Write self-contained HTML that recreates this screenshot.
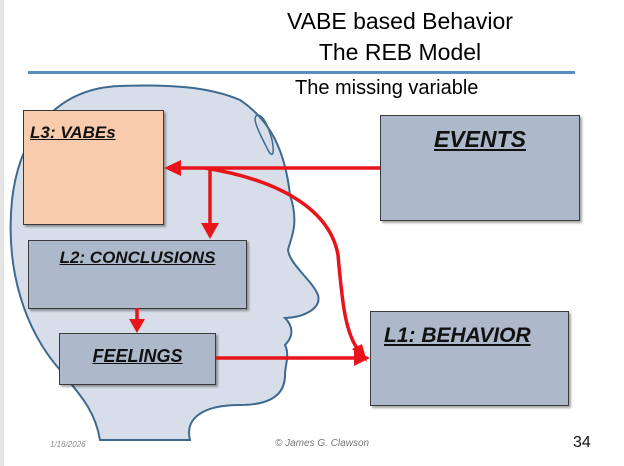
<!DOCTYPE html>
<html><head><style>
body{margin:0;width:624px;height:466px;background:#fff;position:relative;overflow:hidden;font-family:"Liberation Sans",sans-serif}
.t{position:absolute;font-family:"Liberation Sans",sans-serif;color:#000}
.box{position:absolute;border:1.5px solid #3a3a3a;box-shadow:2px 2px 2px rgba(0,0,0,.35);box-sizing:border-box;text-align:center;font-weight:bold;font-style:italic;text-decoration:underline;color:#111}
</style></head><body>
<div style="position:absolute;left:0;top:0;width:4px;height:466px;background:#e4e4e4"></div>
<div class="t" style="left:250px;top:8px;width:300px;text-align:center;font-size:23px">VABE based Behavior</div>
<div class="t" style="left:250px;top:39px;width:300px;text-align:center;font-size:23px">The REB Model</div>
<div style="position:absolute;left:28px;top:71px;width:547px;height:3px;background:#5b8bbf"></div>
<svg width="624" height="466" style="position:absolute;left:0;top:0">
<path d="M120,86 C60,88 20,130 12,200 C5,270 25,330 60,370 C80,395 95,410 100,440 L190,440 C185,420 200,405 240,405 C270,405 285,395 285,375 C285,365 290,355 285,345 C295,335 292,325 285,318 C300,318 322,310 318,295 C312,280 290,265 288,250 C290,240 300,225 290,195 C285,150 270,120 240,100 C210,87 170,84 120,86 Z" fill="#d7dee9" stroke="#3f6a8f" stroke-width="2"/>
<path d="M256,116 C262,112 268,125 272,140 C275,155 272,158 268,150 C262,138 252,120 256,116 Z" fill="none" stroke="#3f6a8f" stroke-width="1.5"/>
</svg>
<div class="box" style="left:23px;top:110px;width:141px;height:115px;background:#f8cbad;text-align:left;padding-left:6px;padding-top:12px;font-size:17px">L3: VABEs</div>
<div class="box" style="left:28px;top:240px;width:219px;height:69px;background:#adb9ca;padding-top:7px;font-size:17px">L2: CONCLUSIONS</div>
<div class="box" style="left:59px;top:333px;width:157px;height:52px;background:#adb9ca;padding-top:12px;font-size:18px">FEELINGS</div>
<div class="box" style="left:380px;top:115px;width:200px;height:106px;background:#adb9ca;padding-top:10px;font-size:23px">EVENTS</div>
<div class="box" style="left:370px;top:311px;width:199px;height:95px;background:#adb9ca;padding-top:12px;font-size:21px;text-align:left;padding-left:13px">L1: BEHAVIOR</div>
<svg width="624" height="466" style="position:absolute;left:0;top:0">
<g stroke="#e8141a" stroke-width="3.5" fill="none">
<line x1="380" y1="168" x2="176" y2="168"/>
<line x1="210" y1="168" x2="210" y2="226"/>
<line x1="137" y1="308" x2="137" y2="320"/>
<line x1="216" y1="358" x2="356" y2="358"/>
<path d="M205,168 C280,180 330,210 338,255 C342,300 345,335 360,352"/>
</g>
<g fill="#e8141a">
<polygon points="164,168 181,160 181,176"/>
<polygon points="210,239 201,223 219,223"/>
<polygon points="137,333 129,319 145,319"/>
<polygon points="370,358 354,350 354,366"/>
<polygon points="367,362 352,349 362,344"/>
</g>
</svg>
<div class="t" style="left:295px;top:77px;font-size:20px">The missing variable</div>
<div style="position:absolute;left:50px;top:440px;font-size:8px;color:#888;font-style:italic">1/16/2026</div>
<div style="position:absolute;left:275px;top:438px;font-size:10px;color:#777;font-style:italic">© James G. Clawson</div>
<div style="position:absolute;left:573px;top:434px;font-size:16px;color:#111">34</div>
</body></html>
